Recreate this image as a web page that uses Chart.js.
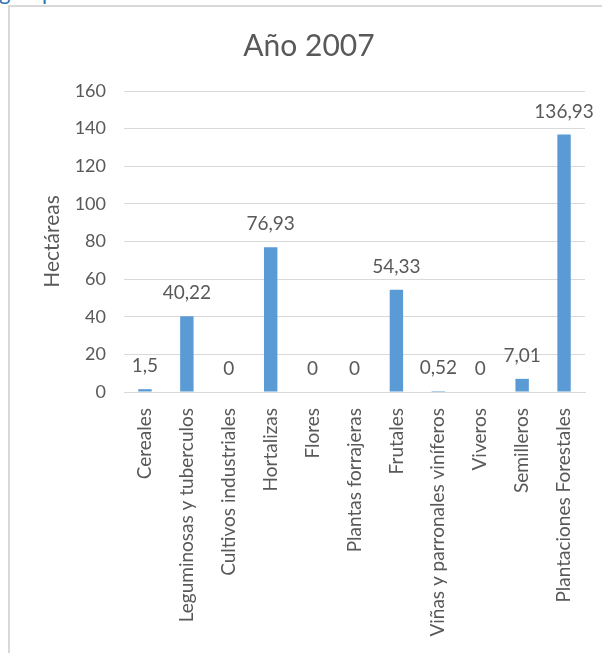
<!DOCTYPE html>
<html>
<head>
<meta charset="utf-8">
<script src="https://cdn.jsdelivr.net/npm/chart.js@4"></script>
<style>
  html, body { margin: 0; padding: 0; background: #fff; }
  body { width: 602px; height: 653px; position: relative; overflow: hidden; font-family: Lato, sans-serif; }
  .cut { position: absolute; top: -22px; color: #2e75b6; font: 22px Lato, sans-serif; }
  #frame { position: absolute; left: 8px; top: 5px; width: 600px; height: 660px;
           border-left: 2px solid #d9d9d9; border-top: 2px solid #d9d9d9; }
  #wrap { position: absolute; left: 10px; top: 7px; width: 592px; height: 646px; }
</style>
</head>
<body>
<span class="cut" style="left:-1px">g</span>
<span class="cut" style="left:42px">p</span>
<div id="frame"></div>
<div id="wrap"><canvas id="chart"></canvas></div>
<script>
// --- data ---
const categories = [
  'Cereales', 'Leguminosas y tuberculos', 'Cultivos industriales', 'Hortalizas',
  'Flores', 'Plantas forrajeras', 'Frutales', 'Viñas y parronales viníferos',
  'Viveros', 'Semilleros', 'Plantaciones Forestales'
];
const hectareas = [1.5, 40.22, 0, 76.93, 0, 0, 54.33, 0.52, 0, 7.01, 136.93];
const yTicks = [0, 20, 40, 60, 80, 100, 120, 140, 160];

const TEXT = '#595959';
const FONT = 'Lato, sans-serif';

// value labels above each bar, decimal comma like the original
const valueLabels = {
  id: 'valueLabels',
  afterDatasetsDraw(chart) {
    const ctx = chart.ctx;
    const meta = chart.getDatasetMeta(0);
    ctx.save();
    ctx.fillStyle = TEXT;
    ctx.font = '19px ' + FONT;
    ctx.textAlign = 'center';
    ctx.textBaseline = 'middle';
    meta.data.forEach((bar, i) => {
      const txt = String(hectareas[i]).replace('.', ',');
      ctx.fillText(txt, bar.x, bar.y - 23);
    });
    ctx.restore();
  }
};

new Chart(document.getElementById('chart'), {
  type: 'bar',
  data: {
    labels: categories,
    datasets: [{
      data: hectareas,
      backgroundColor: '#5b9bd5',
      barPercentage: 0.32,
      categoryPercentage: 1
    }]
  },
  options: {
    responsive: true,
    maintainAspectRatio: false,
    animation: false,
    layout: { padding: { left: 6, right: 0, top: 0, bottom: 0 } },
    plugins: {
      legend: { display: false },
      tooltip: { enabled: false },
      title: {
        display: true,
        text: 'Año 2007',
        color: TEXT,
        font: { family: FONT, size: 30, weight: 'normal' },
        padding: { top: 21, bottom: 27 }
      }
    },
    scales: {
      x: {
        grid: { display: false },
        border: { color: '#d9d9d9', width: 1 },
        ticks: {
          color: TEXT,
          font: { family: FONT, size: 19 },
          minRotation: 90,
          maxRotation: 90,
          autoSkip: false,
          padding: 8
        },
        afterFit(scale) {
          scale.height = 261;
          scale.paddingRight = 17; // room on the right without moving the title
        }
      },
      y: {
        min: 0,
        max: 160,
        afterBuildTicks(scale) { scale.ticks = yTicks.map(v => ({ value: v })); },
        grid: { color: '#d9d9d9', drawTicks: false },
        border: { display: false },
        ticks: {
          color: TEXT,
          font: { family: FONT, size: 18 },
          padding: 18
        },
        title: {
          display: true,
          text: 'Hectáreas',
          color: TEXT,
          font: { family: FONT, size: 21 },
          padding: { top: 24, bottom: 0 }
        },
        afterFit(scale) { scale.width = 108; }
      }
    }
  },
  plugins: [valueLabels]
});
</script>
</body>
</html>
